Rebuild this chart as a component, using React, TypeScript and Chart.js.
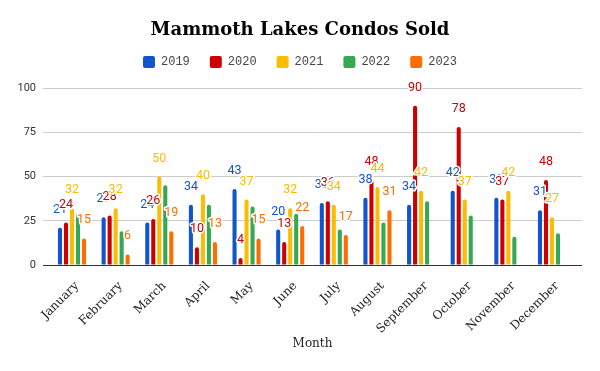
import React, { useEffect, useRef } from 'react';
import { Chart, registerables } from 'chart.js';

Chart.register(...registerables);

const months = ['January', 'February', 'March', 'April', 'May', 'June', 'July', 'August', 'September', 'October', 'November', 'December'];
const seriesNames = ['2019', '2020', '2021', '2022', '2023'];
const sold2019 = [21, 27, 24, 34, 43, 20, 35, 38, 34, 42, 38, 31];
const sold2020 = [24, 28, 26, 10, 4, 13, 36, 48, 90, 78, 37, 48];
const sold2021 = [32, 32, 50, 40, 37, 32, 34, 44, 42, 37, 42, 27];
const sold2022 = [29, 19, 45, 34, 33, 29, 20, 24, 36, 28, 16, 18];
const sold2023: (number | null)[] = [15, 6, 19, 13, 15, 22, 17, 31, null, null, null, null];
const seriesValues: (number | null)[][] = [sold2019, sold2020, sold2021, sold2022, sold2023];
const seriesColors = ['#1155cc', '#cc0000', '#fbbc04', '#34a853', '#ff6d01'];
const seriesLabeled = [true, true, true, false, true];
const yTickValues = [0, 25, 50, 75, 100];

const valueLabels = {
  id: 'valueLabels',
  afterDatasetsDraw(chart: any) {
    const ctx = chart.ctx;
    ctx.save();
    ctx.font = '12.5px Roboto';
    ctx.textAlign = 'center';
    ctx.textBaseline = 'alphabetic';
    ctx.lineJoin = 'round';
    chart.data.datasets.forEach((_ds: any, di: number) => {
      if (!seriesLabeled[di]) return;
      const meta = chart.getDatasetMeta(di);
      meta.data.forEach((bar: any, i: number) => {
        const v = seriesValues[di][i];
        if (v === null || v === undefined) return;
        const x = bar.x;
        const y = bar.y - 15;
        ctx.strokeStyle = '#ffffff';
        ctx.lineWidth = 3;
        ctx.strokeText(String(v), x, y);
        ctx.fillStyle = seriesColors[di];
        ctx.fillText(String(v), x, y);
      });
    });
    ctx.restore();
  },
};

const legendSpacer = {
  id: 'legendSpacer',
  afterInit(chart: any) {
    const lg = chart.legend;
    if (!lg) return;
    const fit = lg.fit;
    lg.fit = function () {
      fit.call(this);
      this.height += 10;
    };
  },
};

export default function App() {
  const canvasRef = useRef<HTMLCanvasElement | null>(null);

  useEffect(() => {
    document.body.style.margin = '0';
    const canvas = canvasRef.current;
    if (!canvas) return;
    const chart = new Chart(canvas, {
      type: 'bar',
      data: {
        datasets: seriesNames.map((name, di) => ({
          label: name,
          data: seriesValues[di].map((v, i) => ({ x: i, y: v })),
          backgroundColor: seriesColors[di],
          borderColor: seriesColors[di],
          borderWidth: 0,
          borderRadius: 2,
          categoryPercentage: 0.6875,
          barPercentage: 0.68,
        })),
      },
      options: {
        responsive: false,
        animation: false,
        events: [],
        layout: { padding: 0 },
        plugins: {
          tooltip: { enabled: false },
          title: {
            display: true,
            text: 'Mammoth Lakes Condos Sold',
            color: '#000000',
            font: { family: 'DejaVu Serif', size: 18, weight: 'bold', lineHeight: 0.5 },
            padding: { top: 26, bottom: 1 },
          },
          legend: {
            position: 'top',
            labels: {
              boxWidth: 12,
              boxHeight: 12,
              padding: 20,
              color: '#444444',
              font: { family: 'Liberation Mono', size: 12 },
              useBorderRadius: true,
              borderRadius: 2,
            },
          },
        },
        scales: {
          x: {
            type: 'linear',
            offset: false,
            min: -0.6646,
            max: 11.6875,
            grid: { display: false },
            border: { display: false },
            afterBuildTicks: (s: any) => {
              s.ticks = months.map((_m, i) => ({ value: i }));
            },
            ticks: {
              autoSkip: false,
              maxRotation: 45,
              minRotation: 45,
              padding: 6,
              labelOffset: 5,
              color: '#222222',
              font: { family: 'DejaVu Serif', size: 12 },
              callback: (v: any) => months[v as number] ?? '',
            },
            title: {
              display: true,
              text: 'Month',
              color: '#222222',
              font: { family: 'DejaVu Serif', size: 12 },
              padding: { top: 4, bottom: 20 },
            },
            afterFit: (s: any) => {
              s.height = 106;
            },
          },
          y: {
            min: 0,
            max: 100,
            afterBuildTicks: (s: any) => {
              s.ticks = yTickValues.map((v) => ({ value: v }));
            },
            ticks: {
              padding: 7,
              color: '#333333',
              font: { family: 'Roboto', size: 11 },
            },
            grid: {
              drawTicks: false,
              color: (c: any) => (c.tick && c.tick.value === 0 ? '#333333' : '#cccccc'),
            },
            border: { display: false },
            afterFit: (s: any) => {
              s.width = 43;
            },
          },
          yRight: {
            position: 'right',
            display: true,
            grid: { display: false },
            ticks: { display: false },
            border: { display: false },
            afterFit: (s: any) => {
              s.width = 18;
            },
          },
        },
      } as any,
      plugins: [valueLabels, legendSpacer],
    });
    return () => {
      chart.destroy();
    };
  }, []);

  return (
    <div style={{ position: 'absolute', left: 0, top: 0, width: 600, height: 371 }}>
      <canvas ref={canvasRef} width={600} height={371} style={{ display: 'block', width: 600, height: 371 }} />
    </div>
  );
}
